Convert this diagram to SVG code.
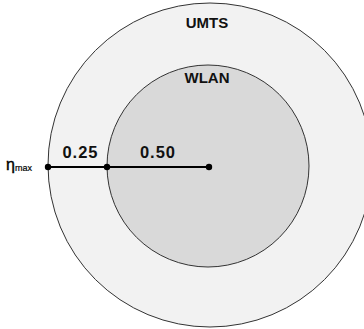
<svg xmlns="http://www.w3.org/2000/svg" width="364" height="329" viewBox="0 0 364 329">
<style>
.lbl{font-family:"Liberation Sans",Arial,sans-serif;font-weight:bold;fill:#111}
.dot{fill:#000}
</style>
<rect width="364" height="329" fill="#fff"/>
<g id="umts">
<circle cx="210" cy="165" r="162" fill="#f2f2f2" stroke="#333" stroke-width="1"/>
<text class="lbl" x="207" y="28" font-size="15" text-anchor="middle">UMTS</text>
</g>
<g id="wlan">
<circle cx="208" cy="166" r="101" fill="#d9d9d9" stroke="#333" stroke-width="1"/>
<text class="lbl" x="207" y="83" font-size="15" text-anchor="middle">WLAN</text>
</g>
<g id="connectors">
<line x1="48" y1="167" x2="209" y2="167" stroke="#000" stroke-width="2"/>
</g>
<g id="points">
<circle class="dot" cx="48" cy="167" r="3.2"/>
<circle class="dot" cx="107" cy="167" r="3.2"/>
<circle class="dot" cx="209" cy="167" r="3.2"/>
</g>
<g id="labels">
<text class="lbl" x="80.5" y="158" font-size="16.5" letter-spacing="1" text-anchor="middle">0.25</text>
<text class="lbl" x="158" y="158" font-size="16.5" letter-spacing="1" text-anchor="middle">0.50</text>
<text x="6" y="170" font-family="Liberation Sans,Arial,sans-serif" font-size="16" fill="#000" stroke="#000" stroke-width="0.4">η<tspan font-size="9" dy="1" stroke-width="0.2">max</tspan></text>
</g>
</svg>
